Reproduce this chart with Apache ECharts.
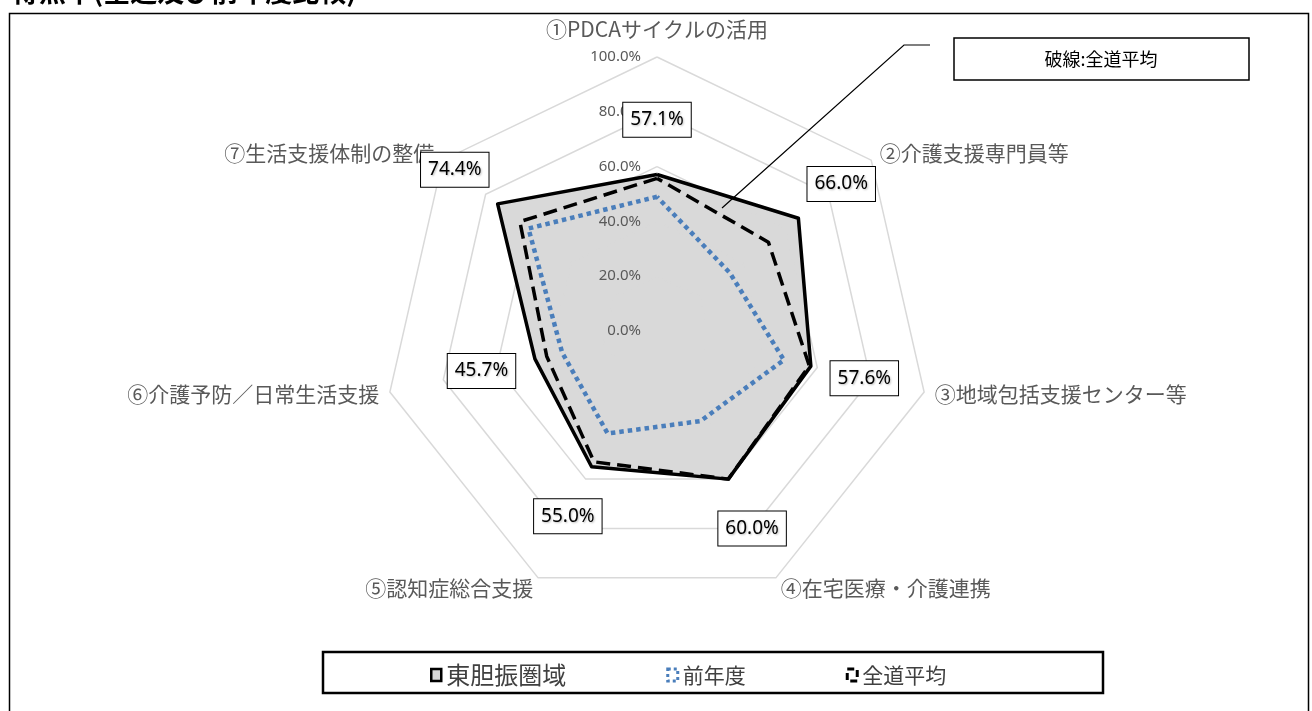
<!DOCTYPE html>
<html><head><meta charset="utf-8">
<script src="https://cdn.jsdelivr.net/npm/echarts@6/dist/echarts.min.js"></script>
<style>html,body{margin:0;padding:0;background:#fff}#c{width:1312px;height:711px}</style>
</head><body><div id="c"></div>
<script>
// ---- data ----
const INDICATORS = ['①PDCAサイクルの活用','②介護支援専門員等','③地域包括支援センター等','④在宅医療・介護連携','⑤認知症総合支援','⑥介護予防／日常生活支援','⑦生活支援体制の整備'];
const SERIES_NAMES = ['東胆振圏域','前年度','全道平均'];
const AREA_VALUES = [57.1, 66.0, 57.6, 60.0, 55.0, 45.7, 74.4];
const PREV_YEAR_VALUES = [49.0, 34.0, 47.5, 36.5, 41.5, 35.5, 60.0];
const HOKKAIDO_AVG_VALUES = [55.7, 52.0, 57.0, 60.0, 53.0, 41.3, 64.0];
const AXIS_MIN = 0, AXIS_MAX = 100, AXIS_SPLITS = 5;
const TITLE_TEXT = '得点率(全道及び前年度比較)';
const NOTE_TEXT = '破線:全道平均';
const LABEL_SHIFT = 20; // data labels sit this far outward along each axis

// ECharts lays radar indicators counter-clockwise; the reference runs clockwise.
const ORDER = [0, 6, 5, 4, 3, 2, 1];
const ord = arr => ORDER.map(i => arr[i]);

const CJK = '"Noto Sans CJK JP", "Noto Sans", sans-serif';
const chart = echarts.init(document.getElementById('c'));
const fmtPct = v => Number(v).toFixed(1) + '%';

const option = {
  animation: false,
  backgroundColor: '#fff',
  radar: {
    z: 2,
    center: [657, 331],
    radius: 274,
    startAngle: 90,
    shape: 'polygon',
    splitNumber: AXIS_SPLITS,
    axisNameGap: 11,
    indicator: ord(INDICATORS).map((n, i) => {
      const o = { name: n, min: AXIS_MIN, max: AXIS_MAX };
      if (i === 0) o.axisLabel = { show: true };
      return o;
    }),
    axisName: {
      color: '#595959', fontSize: 21, fontFamily: CJK,
      formatter: (name) => name === INDICATORS[0] ? '{top|' + name + '}' : name,
      rich: { top: { color: '#595959', fontSize: 21, fontFamily: CJK, padding: [0, 0, 6, 0] } }
    },
    splitLine: { lineStyle: { color: '#d9d9d9', width: 1.5 } },
    splitArea: { show: false },
    axisLine: { show: false },
    axisTick: { show: false },
    axisLabel: {
      show: false, color: '#595959', fontSize: 15, margin: 16,
      fontFamily: '"Noto Sans", sans-serif',
      formatter: v => fmtPct(v)
    }
  },
  legend: {
    left: 425, top: 658,
    itemGap: 100,
    itemWidth: 10, itemHeight: 12,
    textStyle: { color: '#404040', fontFamily: CJK, fontSize: 21 },
    data: [
      { name: SERIES_NAMES[0], icon: 'rect', itemStyle: { color: '#d9d9d9', borderColor: '#000', borderWidth: 2.5 }, textStyle: { fontSize: 24, color: '#404040' } },
      { name: SERIES_NAMES[1], icon: 'rect', itemStyle: { color: '#fff', borderColor: '#4a7ebb', borderWidth: 3, borderType: [3, 3] } },
      { name: SERIES_NAMES[2], icon: 'rect', itemStyle: { color: '#fff', borderColor: '#000', borderWidth: 3, borderType: [7, 4] } }
    ]
  },
  series: [
    {
      // filled area of 東胆振圏域 (below the grid rings)
      type: 'radar',
      z: 1,
      silent: true,
      data: [
        {
          name: SERIES_NAMES[0], value: ord(AREA_VALUES), symbol: 'none',
          lineStyle: { width: 0, opacity: 0 },
          areaStyle: { color: '#d9d9d9', opacity: 1 },
          itemStyle: { color: '#d9d9d9' }
        }
      ]
    },
    {
      type: 'radar',
      z: 3,
      data: [
        {
          name: SERIES_NAMES[1], value: ord(PREV_YEAR_VALUES), symbol: 'none',
          lineStyle: { color: '#4a7ebb', width: 4.5, type: [4.5, 4] },
          itemStyle: { color: '#4a7ebb' }
        },
        {
          name: SERIES_NAMES[2], value: ord(HOKKAIDO_AVG_VALUES), symbol: 'none',
          lineStyle: { color: '#000', width: 3.5, type: [14, 7] },
          itemStyle: { color: '#000' }
        },
        {
          name: SERIES_NAMES[0], value: ord(AREA_VALUES), symbol: 'none',
          lineStyle: { color: '#000', width: 3.5 },
          itemStyle: { color: '#000' }
        }
      ]
    },
    {
      type: 'radar',
      z: 5,
      silent: true,
      data: [
        {
          value: ord(AREA_VALUES).map(v => v + LABEL_SHIFT),
          symbol: 'circle', symbolSize: 1,
          itemStyle: { color: 'rgba(0,0,0,0)', borderWidth: 0 },
          lineStyle: { width: 0, opacity: 0 },
          label: {
            show: true, position: 'inside',
            formatter: p => {
              const v = Array.isArray(p.value) ? p.value[p.dimensionIndex || 0] : p.value;
              return fmtPct(v - LABEL_SHIFT);
            },
            color: '#000', fontSize: 19, fontFamily: '"Noto Sans", sans-serif',
            backgroundColor: '#fff', borderColor: '#000', borderWidth: 1,
            padding: [6, 7], lineHeight: 22,
            textShadowColor: 'rgba(0,0,0,0.25)', textShadowBlur: 2, textShadowOffsetX: 1, textShadowOffsetY: 1
          }
        }
      ]
    }
  ],
  graphic: [
    { type: 'rect', left: 7, top: 11, z: 0, silent: true,
      shape: { width: 1299, height: 740 },
      style: { fill: null, stroke: '#000', lineWidth: 1.5 } },
    { type: 'text', x: 12, y: -8, z: 10, silent: true,
      style: { text: TITLE_TEXT, fill: '#000', font: 'bold 27px ' + CJK, textVerticalAlign: 'middle' } },
    { type: 'polyline', z: 20, silent: true,
      shape: { points: [[722, 208], [904, 45], [930, 45]] },
      style: { stroke: '#000', lineWidth: 1.2, fill: null } },
    { type: 'rect', z: 20, silent: true, x: 954, y: 38,
      shape: { width: 295, height: 42 },
      style: { fill: '#fff', stroke: '#000', lineWidth: 1.5 } },
    { type: 'text', z: 21, silent: true, x: 1101, y: 59,
      style: { text: NOTE_TEXT, fill: '#000', font: '18px ' + CJK, textAlign: 'center', textVerticalAlign: 'middle' } },
    { type: 'rect', z: 20, silent: true, x: 323, y: 652,
      shape: { width: 780, height: 41 },
      style: { fill: null, stroke: '#000', lineWidth: 2.5 } }
  ]
};
chart.setOption(option);
</script>
</body></html>
